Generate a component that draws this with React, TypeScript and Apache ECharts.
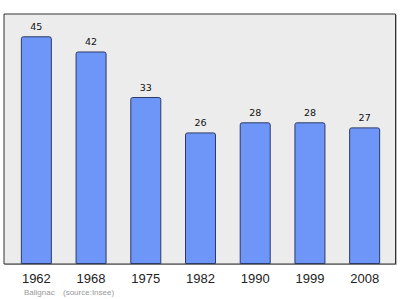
import React, { useEffect, useRef } from "react";
import * as echarts from "echarts";

// Population by census year
const years = ["1962", "1968", "1975", "1982", "1990", "1999", "2008"];
const population = [45, 42, 33, 26, 28, 28, 27];
const commune = "Balignac";
const source = "(source:Insee)";

export default function App() {
  const ref = useRef<HTMLDivElement>(null);

  useEffect(() => {
    if (!ref.current) return;
    const chart = echarts.init(ref.current, null, { renderer: "svg" });
    chart.setOption({
      animation: false,
      backgroundColor: "#ffffff",
      grid: { left: 9, right: 8, top: 11, bottom: 35, containLabel: false },
      graphic: [
        // frame shadow
        {
          type: "rect",
          z: -3,
          shape: { x: 5, y: 15, width: 392, height: 250 },
          style: { fill: "#b8b8b8" },
          silent: true,
        },
        // plot frame
        {
          type: "rect",
          z: -2,
          shape: { x: 4, y: 14, width: 391.5, height: 250 },
          style: { fill: "#ececec", stroke: "#333333", lineWidth: 1 },
          silent: true,
        },
        {
          type: "text",
          x: 24,
          y: 292,
          style: {
            text: commune,
            fill: "#999999",
            font: "8px 'Liberation Sans', Arial, sans-serif",
            textVerticalAlign: "middle",
          },
        },
        {
          type: "text",
          x: 63,
          y: 292,
          style: {
            text: source,
            fill: "#999999",
            font: "8px 'Liberation Sans', Arial, sans-serif",
            textVerticalAlign: "middle",
          },
        },
      ],
      xAxis: {
        type: "category",
        data: years,
        axisLine: { show: false },
        axisTick: { show: false },
        axisLabel: {
          color: "#222222",
          fontFamily: "'Liberation Sans', Arial, sans-serif",
          fontSize: 13,
          margin: 8,
        },
      },
      yAxis: {
        type: "value",
        min: 0,
        max: 50,
        show: false,
        splitLine: { show: false },
      },
      series: [
        {
          type: "bar",
          data: population,
          barWidth: 31,
          itemStyle: {
            color: "#6e96f8",
            borderColor: "#2c3a66",
            borderWidth: 1,
            borderRadius: [2, 2, 0, 0],
          },
          label: {
            show: true,
            position: "top",
            distance: 5,
            color: "#111111",
            fontFamily: "'DejaVu Sans', Verdana, sans-serif",
            fontSize: 9.5,
          },
        },
      ],
    });
    return () => chart.dispose();
  }, []);

  return (
    <div
      ref={ref}
      style={{ position: "fixed", left: 0, top: 0, width: 400, height: 299 }}
    />
  );
}
